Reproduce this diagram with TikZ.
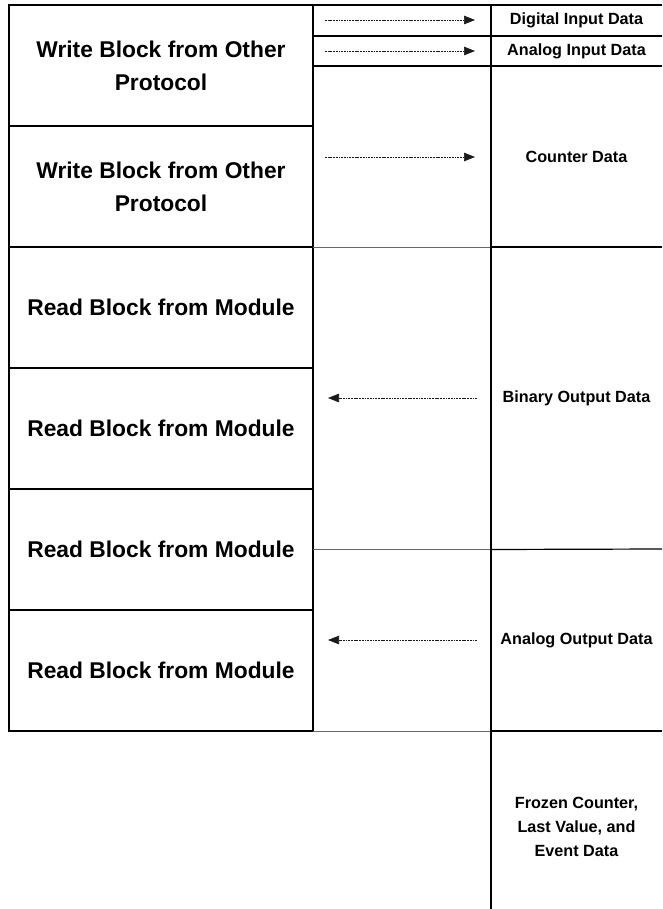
\documentclass[tikz,border=0pt]{standalone}
\usepackage{fontspec}
\setmainfont{Liberation Sans}
\usetikzlibrary{positioning, arrows.meta}
\tikzset{
    blocknode/.style={rectangle, draw=black, line width=1.2pt, outer sep=0pt, inner sep=0pt,
        minimum width=304pt, minimum height=121pt, align=center,
        font=\bfseries\fontsize{22.8}{33}\selectfont},
    datanode/.style={rectangle, outer sep=0pt, inner sep=0pt, minimum width=171pt, align=center,
        font=\bfseries\fontsize{16.2}{24}\selectfont},
    gridline/.style={line width=1.2pt, black},
    thinline/.style={line width=0.7pt, black!60},
    flow/.style={-{Triangle[length=11pt,width=8.5pt]}, line width=0.7pt, dash pattern=on 1.8pt off 0.9pt, black!90},
}
\begin{document}
\begin{tikzpicture}[x=1pt, y=-1pt]
    \useasboundingbox (0,0) rectangle (662,909);

    % Blocchi a sinistra
    \node[blocknode] (write1) at (161,65.5) {Write Block from Other\\Protocol};
    \node[blocknode, below=0pt of write1] (write2) {Write Block from Other\\Protocol};
    \node[blocknode, below=0pt of write2] (read1) {Read Block from Module};
    \node[blocknode, below=0pt of read1] (read2) {Read Block from Module};
    \node[blocknode, below=0pt of read2] (read3) {Read Block from Module};
    \node[blocknode, below=0pt of read3] (read4) {Read Block from Module};

    % Dati a destra
    \node[datanode] (digital) at (576.5,20) {Digital Input Data};
    \node[datanode] (analogin) at (576.5,51) {Analog Input Data};
    \node[datanode] (counter) at (576.5,157) {Counter Data};
    \node[datanode] (binary) at (576.5,398) {Binary Output Data};
    \node[datanode] (analogout) at (576.5,640) {Analog Output Data};
    \node[datanode] (frozen) at (576.5,827) {Frozen Counter,\\Last Value, and\\Event Data};

    % Griglia
    \draw[gridline] (write1.north east) -- (662,5);
    \draw[gridline] (write1.east |- 0,36) -- (662,36);
    \draw[gridline] (write1.east |- 0,66) -- (662,66);
    \draw[thinline] (write2.south east) -- (digital.west |- write2.south);
    \draw[gridline] (digital.west |- write2.south) -- (662,247);
    \draw[thinline] (read3.east) -- (digital.west |- read3.east);
    \draw[gridline] (digital.west |- read3.east) -- (662,549);
    \draw[thinline] (read4.south east) -- (digital.west |- read4.south);
    \draw[gridline] (digital.west |- read4.south) -- (662,731);
    \draw[gridline] (digital.west |- 0,5) -- (digital.west |- 0,909);

    % Frecce
    \foreach \n in {digital, analogin, counter}
        \draw[flow] ([xshift=12pt]write1.east |- \n.west) -- ([xshift=-16pt]\n.west);
    \foreach \n in {binary, analogout}
        \draw[flow] ([xshift=-14pt]\n.west) -- ([xshift=15pt]write1.east |- \n.west);
\end{tikzpicture}
\end{document}
